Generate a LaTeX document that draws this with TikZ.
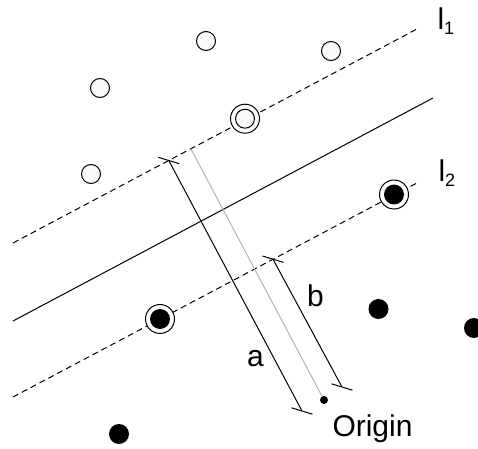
\documentclass[tikz,border=0pt]{standalone}
\usepackage{fontspec}
\setmainfont{Liberation Sans}
\usetikzlibrary{calc}

\newcommand{\dimtick}[1]{\draw ($(#1)+(-10.5,-3.2)$) -- ($(#1)+(10.5,3.2)$);}
\newcommand{\sub}[1]{{\fontsize{9}{10}\selectfont\raisebox{-2.5pt}{#1}}}

\begin{document}
\begin{tikzpicture}[
    x=0.5pt, y=-0.5pt, line width=0.5pt,
    opendot/.style={circle, draw, fill=gray!5, minimum size=9.5pt, inner sep=0pt},
    fulldot/.style={circle, fill=black, minimum size=10pt, inner sep=0pt},
    ring/.style={circle, draw, fill=white, minimum size=14.5pt, inner sep=0pt},
    margin/.style={dash pattern=on 3pt off 2pt},
    lbl/.style={inner sep=0pt, font=\fontsize{15}{18}\selectfont}
]
\useasboundingbox (0,0) rectangle (478,449);

% Hyperplane and margins
\coordinate (l1a) at (13,243);
\coordinate (l1b) at (417,29);
\coordinate (hpa) at (13,321);
\coordinate (hpb) at (433,98);
\coordinate (l2a) at (13,397);
\coordinate (l2b) at (417,183);
\draw[margin] (l1a) -- (l1b);
\draw (hpa) -- (hpb);
\draw[margin] (l2a) -- (l2b);

% Origin and distances
\node[circle, fill=black, minimum size=4pt, inner sep=0pt] (origin) at (324,400) {};
\coordinate (foot) at (190.9,148.8);
\draw[gray!60] (foot) -- (origin);

\coordinate (aTop) at (168.8,160.5);
\coordinate (aBot) at (302,411);
\draw (aTop) -- (aBot);
\dimtick{aTop}
\dimtick{aBot}

\coordinate (bTop) at (273,259.2);
\coordinate (bBot) at (342,387);
\draw (bTop) -- (bBot);
\dimtick{bTop}
\dimtick{bBot}

% Class 1
\node[opendot] (w1) at (206,41) {};
\node[opendot] (w2) at (331,51) {};
\node[opendot] (w3) at (100,88) {};
\node[opendot] (w4) at (91,174) {};
\node[ring] (sw1r) at (245,118.7) {};
\node[opendot] (sw1) at (245,118.7) {};

% Class 2
\node[fulldot] (k1) at (378.5,309) {};
\node[fulldot] (k2) at (474,328) {};
\node[fulldot] (k3) at (119,434) {};
\node[ring] (sk1r) at (160,319) {};
\node[fulldot] (sk1) at (160,319) {};
\node[ring] (sk2r) at (394,194.5) {};
\node[fulldot] (sk2) at (394,194.5) {};

% Labels
\node[lbl, anchor=base west] (l1lbl) at (437,30) {l\sub{1}};
\node[lbl, anchor=base west] (l2lbl) at (438,182) {l\sub{2}};
\node[lbl, anchor=base] (albl) at (255.5,367) {a};
\node[lbl, anchor=base] (blbl) at (315.5,307) {b};
\node[lbl, anchor=base west] (olbl) at (332,437) {Origin};

\end{tikzpicture}
\end{document}
